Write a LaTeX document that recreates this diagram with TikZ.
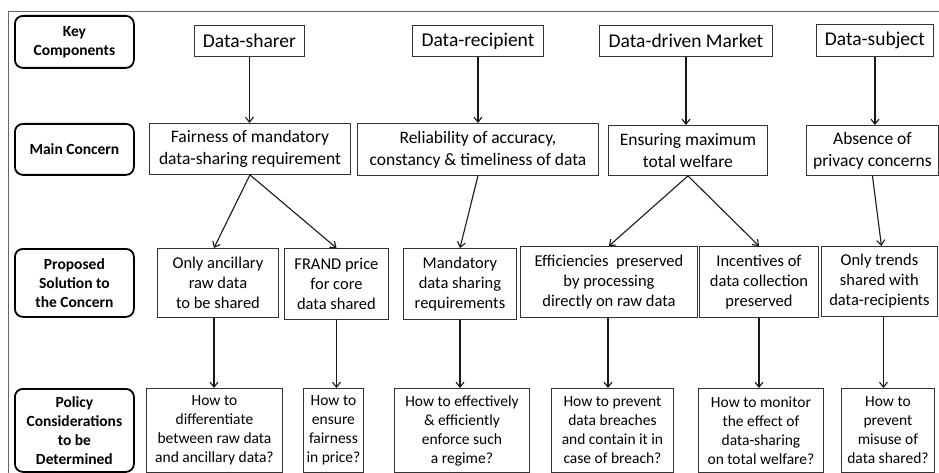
\documentclass[tikz,border=0pt]{standalone}
\usepackage{fontspec}
\setmainfont{Carlito}
\usetikzlibrary{arrows.meta}

\tikzset{
  frameline/.style={draw=black!60, line width=0.9pt},
  rowlabel/.style={draw=black, line width=1.8pt, rounded corners=8pt, inner sep=0pt,
    align=center, anchor=north west, text=black,
    font=\bfseries\fontsize{15.5}{19}\selectfont},
  cell/.style={draw=black!80, line width=0.9pt, inner sep=0pt, align=center,
    anchor=north west, text=black},
  actor/.style={cell, font=\fontsize{19.5}{23}\selectfont},
  concern/.style={cell, font=\fontsize{17.5}{22}\selectfont},
  remedy/.style={cell, font=\fontsize{16.5}{20}\selectfont},
  question/.style={cell, font=\fontsize{15.5}{19}\selectfont},
  flow/.style={draw=black!90, line width=1.1pt, -{Straight Barb[length=5pt,width=8pt]}}
}

\begin{document}
\begin{tikzpicture}[x=1pt, y=-1pt]
\useasboundingbox (0,0) rectangle (939,473);

% outer frame (top and left edges)
\coordinate (ftl) at (8,11);
\coordinate (ftr) at (939,11);
\coordinate (fbl) at (8,473);
\draw[frameline] (ftr) -- (ftl) -- (fbl);

% row labels
\node[rowlabel, minimum width=119pt, minimum height=52pt] (lk) at (14,15) {Key\\Components};
\node[rowlabel, minimum width=119pt, minimum height=51pt] (lm) at (14,123) {Main Concern};
\node[rowlabel, minimum width=119pt, minimum height=68pt] (lp) at (14,248) {Proposed\\Solution to\\the Concern};
\node[rowlabel, minimum width=119pt, minimum height=83pt] (lc) at (14,388) {Policy\\Considerations\\to be\\Determined};

% key components
\node[actor, minimum width=110pt, minimum height=31pt] (ds) at (194,25) {Data-sharer};
\node[actor, minimum width=131pt, minimum height=31pt] (dr) at (412,25) {Data-recipient};
\node[actor, minimum width=173pt, minimum height=31pt] (dm) at (599,25) {Data-driven Market};
\node[actor, minimum width=117pt, minimum height=32pt] (dsub) at (816,24) {Data-subject};

% main concerns
\node[concern, minimum width=201pt, minimum height=51pt] (fair) at (149,123) {Fairness of mandatory\\data-sharing requirement};
\node[concern, minimum width=241pt, minimum height=52pt] (rel) at (357,123) {Reliability of accuracy,\\constancy \& timeliness of data};
\node[concern, minimum width=159pt, minimum height=50pt] (ens) at (608,125) {Ensuring maximum\\total welfare};
\node[concern, minimum width=132pt, minimum height=50pt] (abs) at (806,125) {Absence of\\privacy concerns};

% proposed solutions
\node[remedy, minimum width=121pt, minimum height=69pt] (anc) at (157,248) {Only ancillary\\raw data\\to be shared};
\node[remedy, minimum width=104pt, minimum height=71pt] (frand) at (284,248) {FRAND price\\for core\\data shared};
\node[remedy, minimum width=113pt, minimum height=71pt] (mand) at (403,248) {Mandatory\\data sharing\\requirements};
\node[remedy, minimum width=177pt, minimum height=71pt] (eff) at (520,246) {Efficiencies\ \ preserved\\by processing\\directly on raw data};
\node[remedy, minimum width=119pt, minimum height=71pt] (inc) at (699,246) {Incentives of\\data collection\\preserved};
\node[remedy, minimum width=116pt, minimum height=70pt] (trend) at (821,246) {Only trends\\shared with\\data-recipients};

% policy considerations
\node[question, minimum width=136pt, minimum height=84pt] (qdiff) at (146,388) {How to\\differentiate\\between raw data\\and ancillary data?};
\node[question, minimum width=60pt, minimum height=84pt] (qfair) at (303,388) {How to\\ensure\\fairness\\in price?};
\node[question, minimum width=135pt, minimum height=84pt] (qenf) at (394,388) {How to effectively\\\& efficiently\\enforce such\\a regime?};
\node[question, minimum width=122pt, minimum height=84pt] (qbreach) at (551,388) {How to prevent\\data breaches\\and contain it in\\case of breach?};
\node[question, minimum width=125pt, minimum height=84pt] (qmon) at (698,388) {How to monitor\\the effect of\\data-sharing\\on total welfare?};
\node[question, minimum width=93pt, minimum height=84pt] (qmis) at (841,388) {How to\\prevent\\misuse of\\data shared?};

% components to concerns
\draw[flow] (ds.south) -- (ds.south |- fair.north);
\draw[flow] (dr.south) -- (dr.south |- rel.north);
\draw[flow] (dm.south) -- (dm.south |- ens.north);
\draw[flow] (dsub.south) -- (dsub.south |- abs.north);

% concerns to solutions
\draw[flow] (fair.south) -- ([xshift=-4pt]anc.north);
\draw[flow] (fair.south) -- (frand.north);
\draw[flow] (rel.south) -- (mand.north);
\draw[flow] (ens.south) -- (eff.north);
\draw[flow] (ens.south) -- (inc.north);
\draw[flow] (abs.south) -- ([xshift=2pt]trend.north);

% solutions to policy questions
\draw[flow] ([xshift=-4pt]anc.south) -- ([xshift=-4pt]anc.south |- qdiff.north);
\draw[flow] (frand.south) -- (frand.south |- qfair.north);
\draw[flow] (mand.south) -- (mand.south |- qenf.north);
\draw[flow] ([xshift=-1pt]eff.south) -- ([xshift=-1pt]eff.south |- qbreach.north);
\draw[flow] (inc.south) -- (inc.south |- qmon.north);
\draw[flow] ([xshift=4pt]trend.south) -- ([xshift=4pt]trend.south |- qmis.north);
\end{tikzpicture}
\end{document}
